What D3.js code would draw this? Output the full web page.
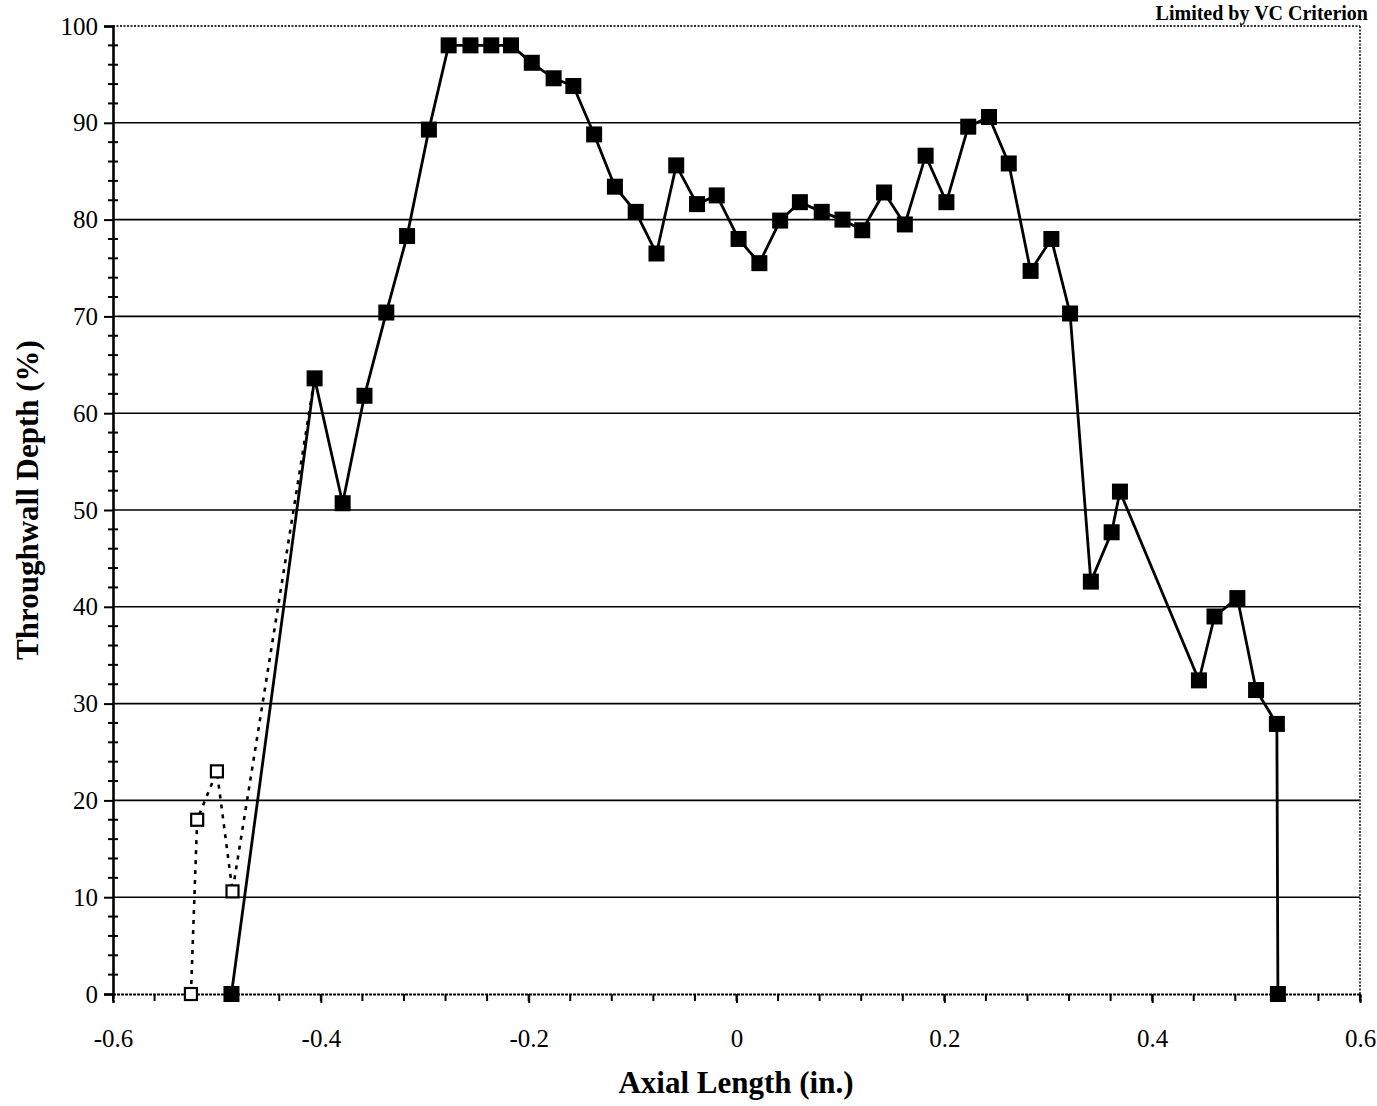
<!DOCTYPE html>
<html>
<head>
<meta charset="utf-8">
<script src="https://cdn.jsdelivr.net/npm/d3@7"></script>
<style>
  html, body { margin: 0; padding: 0; background: #fff; }
  svg { display: block; }
  text { font-family: "Liberation Serif", "Times New Roman", serif; fill: #000; }
</style>
</head>
<body>
<script>
// ---- data ----
const solidX = [-0.486, -0.406, -0.379, -0.358, -0.337, -0.317, -0.296, -0.277, -0.256, -0.236,
  -0.217, -0.197, -0.176, -0.157, -0.137, -0.117, -0.097, -0.077, -0.058, -0.038,
  -0.019, 0.002, 0.022, 0.042, 0.061, 0.082, 0.102, 0.121, 0.142, 0.162,
  0.182, 0.202, 0.223, 0.243, 0.262, 0.283, 0.303, 0.321, 0.341, 0.361,
  0.369, 0.445, 0.460, 0.482, 0.500, 0.520, 0.521];
const solidY = [0, 63.6, 50.7, 61.8, 70.4, 78.3, 89.3, 98, 98, 98,
  98, 96.2, 94.6, 93.8, 88.8, 83.4, 80.8, 76.5, 85.6, 81.6,
  82.5, 78.0, 75.5, 79.9, 81.8, 80.8, 80.0, 78.9, 82.8, 79.5,
  86.6, 81.8, 89.6, 90.6, 85.8, 74.7, 78.0, 70.3, 42.6, 47.7,
  51.9, 32.4, 39.0, 40.9, 31.4, 27.9, 0];
const dashX = [-0.525, -0.519, -0.500, -0.485, -0.406];
const dashY = [0, 18.0, 23.0, 10.6, 63.6];

const yTicks = [0, 10, 20, 30, 40, 50, 60, 70, 80, 90, 100];
const yMinor = d3.range(0, 101, 2);
const xTicks = [-0.6, -0.4, -0.2, 0, 0.2, 0.4, 0.6];
const xTickLabels = ["-0.6", "-0.4", "-0.2", "0", "0.2", "0.4", "0.6"];
const xMinor = d3.range(-0.6, 0.6001, 0.04);

const titleText = "Limited by VC Criterion";
const xTitle = "Axial Length (in.)";
const yTitle = "Throughwall Depth (%)";

// ---- layout ----
const W = 1377, H = 1106;
const L = 113, R = 1360, T = 26, B = 994;

const svg = d3.select("body").append("svg").attr("width", W).attr("height", H);

const x = d3.scaleLinear().domain([-0.6, 0.6]).range([L, R]);
const y = d3.scaleLinear().domain([0, 100]).range([B, T]);

// top-right caption
svg.append("text")
  .attr("x", 1368).attr("y", 20)
  .attr("text-anchor", "end")
  .attr("font-size", 20).attr("font-weight", "bold")
  .text(titleText);

// gridlines
svg.append("g").selectAll("line")
  .data(yTicks.filter(d => d > 0 && d < 100))
  .join("line")
  .attr("x1", L).attr("x2", R)
  .attr("y1", d => y(d)).attr("y2", d => y(d))
  .attr("stroke", "#000").attr("stroke-width", 1.6);

// top and right border (dotted)
svg.append("line").attr("x1", L).attr("x2", R).attr("y1", T).attr("y2", T)
  .attr("stroke", "#333").attr("stroke-width", 1.8).attr("stroke-dasharray", "2,1.5");
svg.append("line").attr("x1", R).attr("x2", R).attr("y1", T).attr("y2", B)
  .attr("stroke", "#333").attr("stroke-width", 1.8).attr("stroke-dasharray", "2,1.5");

// y axis
const yAxis = d3.axisLeft(y).tickValues(yTicks).tickSize(9).tickPadding(6)
  .tickFormat(d => String(d));
const gy = svg.append("g").attr("transform", `translate(${L},0)`).call(yAxis);
gy.select(".domain").attr("stroke", "#000").attr("stroke-width", 2.6);
gy.selectAll(".tick line").attr("stroke", "#000").attr("stroke-width", 2);
gy.selectAll(".tick text").attr("font-size", 25)
  .attr("font-family", "Liberation Serif, serif");
// minor y ticks crossing the axis
svg.append("g").selectAll("line")
  .data(yMinor.filter(d => d % 10 !== 0))
  .join("line")
  .attr("x1", L - 5).attr("x2", L + 5)
  .attr("y1", d => y(d)).attr("y2", d => y(d))
  .attr("stroke", "#000").attr("stroke-width", 2);

// x axis
const xAxis = d3.axisBottom(x).tickValues(xTicks).tickSize(9).tickPadding(26)
  .tickFormat((d, i) => xTickLabels[i]);
const gx = svg.append("g").attr("transform", `translate(0,${B})`).call(xAxis);
gx.select(".domain").attr("stroke", "#000").attr("stroke-width", 2)
  .attr("stroke-dasharray", "3,1");
gx.selectAll(".tick line").attr("stroke", "#000").attr("stroke-width", 2);
gx.selectAll(".tick text").attr("font-size", 25)
  .attr("font-family", "Liberation Serif, serif");
svg.append("g").selectAll("line")
  .data(xMinor)
  .join("line")
  .attr("x1", d => x(d)).attr("x2", d => x(d))
  .attr("y1", B).attr("y2", B + 7)
  .attr("stroke", "#000").attr("stroke-width", 2);

// axis titles
svg.append("text")
  .attr("x", 736).attr("y", 1093)
  .attr("text-anchor", "middle")
  .attr("font-size", 31).attr("font-weight", "bold")
  .text(xTitle);
svg.append("text")
  .attr("transform", "translate(38,500) rotate(-90)")
  .attr("text-anchor", "middle")
  .attr("font-size", 31).attr("font-weight", "bold")
  .text(yTitle);

// dashed series
const dashData = dashX.map((d, i) => [d, dashY[i]]);
const solidData = solidX.map((d, i) => [d, solidY[i]]);
const line = d3.line().x(d => x(d[0])).y(d => y(d[1]));

svg.append("path").datum(dashData)
  .attr("d", line).attr("fill", "none")
  .attr("stroke", "#000").attr("stroke-width", 2.6)
  .attr("stroke-dasharray", "4,6");
svg.append("g").selectAll("rect")
  .data(dashData.slice(0, -1))
  .join("rect")
  .attr("x", d => x(d[0]) - 6).attr("y", d => y(d[1]) - 6)
  .attr("width", 12).attr("height", 12)
  .attr("fill", "#fff").attr("stroke", "#000").attr("stroke-width", 2.2);

// solid series
svg.append("path").datum(solidData)
  .attr("d", line).attr("fill", "none")
  .attr("stroke", "#000").attr("stroke-width", 2.8);
svg.append("g").selectAll("rect")
  .data(solidData)
  .join("rect")
  .attr("x", d => x(d[0]) - 8).attr("y", d => y(d[1]) - 8)
  .attr("width", 16).attr("height", 16)
  .attr("fill", "#000");
</script>
</body>
</html>
